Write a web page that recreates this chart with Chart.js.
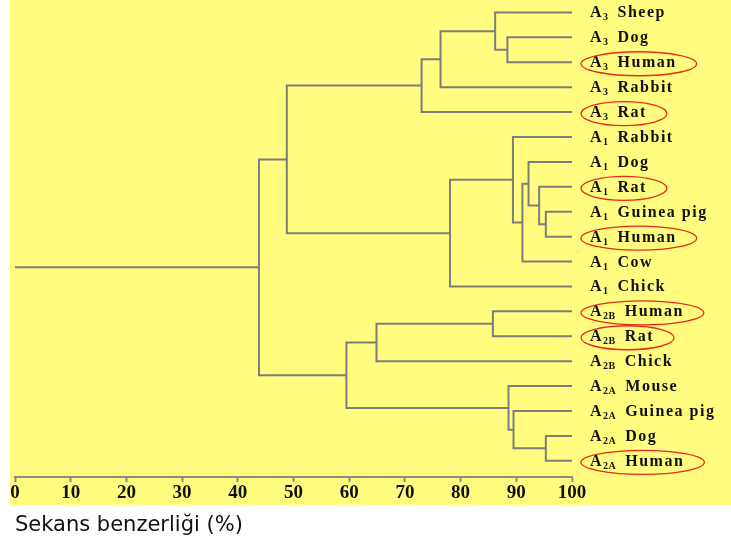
<!DOCTYPE html>
<html lang="tr">
<head>
<meta charset="UTF-8">
<title>Sekans benzerliği</title>
<script src="https://cdn.jsdelivr.net/npm/chart.js"></script>
<style>
  body { margin: 0; background: #fff; }
</style>
</head>
<body>
<canvas id="dendro" width="731" height="544"></canvas>
<script>
// yapraklar, yukaridan asagiya
const leafGroups = ['3', '3', '3', '3', '3', '1', '1', '1', '1', '1', '1', '1', '2B', '2B', '2B', '2A', '2A', '2A', '2A'];
const leafNames = ['Sheep', 'Dog', 'Human', 'Rabbit', 'Rat', 'Rabbit', 'Dog', 'Rat', 'Guinea pig', 'Human', 'Cow', 'Chick',
                   'Human', 'Rat', 'Chick', 'Mouse', 'Guinea pig', 'Dog', 'Human'];
const circled = [0, 0, 1, 0, 1, 0, 0, 1, 0, 1, 0, 0, 1, 1, 0, 0, 0, 0, 1];

// birlesmeler: 0-18 yaprak, 19+k = k. birlesme dugumu
const mergeA = [1, 0, 20, 21, 8, 7, 6, 25, 5, 27, 22, 12, 30, 17, 16, 15, 31, 29];
const mergeB = [2, 19, 3, 4, 9, 23, 24, 10, 26, 11, 28, 13, 14, 18, 32, 33, 34, 35];
const mergeSim = [88.4, 86.2, 76.4, 73.0, 95.3, 94.1, 92.2, 91.1, 89.4, 78.1, 48.8, 85.8, 64.9, 95.3, 89.5, 88.6, 59.5, 43.8];

const xTicks = [0, 10, 20, 30, 40, 50, 60, 70, 80, 90, 100];

const lineColor = '#7d7d7d';

// dugum konumlari
const nodeRow = leafNames.map((_, i) => i);
const nodeSim = leafNames.map(() => 100);
mergeSim.forEach((s, k) => {
    nodeRow.push((nodeRow[mergeA[k]] + nodeRow[mergeB[k]]) / 2);
    nodeSim.push(s);
});

const datasets = mergeSim.map((s, k) => {
    const a = mergeA[k], b = mergeB[k];
    return {
        data: [
            { x: nodeSim[a], y: nodeRow[a] },
            { x: s, y: nodeRow[a] },
            { x: s, y: nodeRow[b] },
            { x: nodeSim[b], y: nodeRow[b] }
        ]
    };
});
// kok cizgisi
const root = nodeRow.length - 1;
datasets.push({ data: [{ x: 0, y: nodeRow[root] }, { x: nodeSim[root], y: nodeRow[root] }] });
datasets.forEach(d => Object.assign(d, {
    showLine: true, borderColor: lineColor, borderWidth: 2, pointRadius: 0, tension: 0, clip: false
}));

// sari arka plan
const bgPlugin = {
    id: 'bg',
    beforeDraw(chart) {
        const ctx = chart.ctx;
        ctx.save();
        ctx.fillStyle = '#fffc80';
        ctx.fillRect(10, 0, chart.width - 10, 505);
        ctx.restore();
    }
};

// yaprak etiketleri + kirmizi elipsler
const labelPlugin = {
    id: 'leafLabels',
    afterDatasetsDraw(chart) {
        const ctx = chart.ctx;
        const yScale = chart.scales.y;
        const x0 = chart.chartArea.right + 18;
        ctx.save();
        ctx.fillStyle = '#111';
        ctx.textBaseline = 'alphabetic';
        ctx.textAlign = 'left';
        leafNames.forEach((name, i) => {
            const yp = yScale.getPixelForValue(i);
            const base = yp + 5;
            ctx.letterSpacing = '1.5px';
            ctx.font = 'bold 16px "Liberation Serif"';
            ctx.fillText('A', x0, base);
            let xp = x0 + ctx.measureText('A').width;
            ctx.letterSpacing = '0.5px';
            ctx.font = 'bold 10px "Liberation Serif"';
            ctx.fillText(leafGroups[i], xp, base + 3);
            xp += ctx.measureText(leafGroups[i]).width + 9;
            ctx.letterSpacing = '1.5px';
            ctx.font = 'bold 16px "Liberation Serif"';
            ctx.fillText(name, xp, base);
            const end = xp + ctx.measureText(name).width;
            if (circled[i]) {
                const left = x0 - 9, right = end + 20;
                ctx.beginPath();
                ctx.ellipse((left + right) / 2, yp + 1.5, (right - left) / 2, 12, 0, 0, Math.PI * 2);
                ctx.strokeStyle = '#e8291c';
                ctx.lineWidth = 1.3;
                ctx.stroke();
            }
        });
        ctx.restore();
    }
};

new Chart(document.getElementById('dendro'), {
    type: 'scatter',
    data: { datasets: datasets },
    options: {
        responsive: false,
        animation: false,
        layout: { padding: { left: 15, right: 159, top: 0, bottom: 0 } },
        plugins: { legend: { display: false }, tooltip: { enabled: false } },
        scales: {
            x: {
                type: 'linear',
                position: 'bottom',
                min: 0,
                max: 100,
                afterBuildTicks: s => { s.ticks = xTicks.map(v => ({ value: v })); },
                afterFit: s => { s.height = 67; },
                ticks: {
                    autoSkip: false,
                    maxRotation: 0,
                    padding: 0,
                    color: '#111',
                    font: { family: 'Liberation Serif', size: 19, weight: 'bold' }
                },
                grid: { drawOnChartArea: false, tickLength: 5, color: '#8a8a8a', tickWidth: 2 },
                border: { color: '#8a8a8a', width: 2 },
                title: {
                    display: true,
                    text: 'Sekans benzerliği (%)',
                    align: 'start',
                    color: '#111',
                    font: { family: 'DejaVu Sans', size: 21 },
                    padding: { top: 0, bottom: 6 }
                }
            },
            y: {
                type: 'linear',
                reverse: true,
                min: -0.5,
                max: 18.65,
                display: false
            }
        }
    },
    plugins: [bgPlugin, labelPlugin]
});
</script>
</body>
</html>
